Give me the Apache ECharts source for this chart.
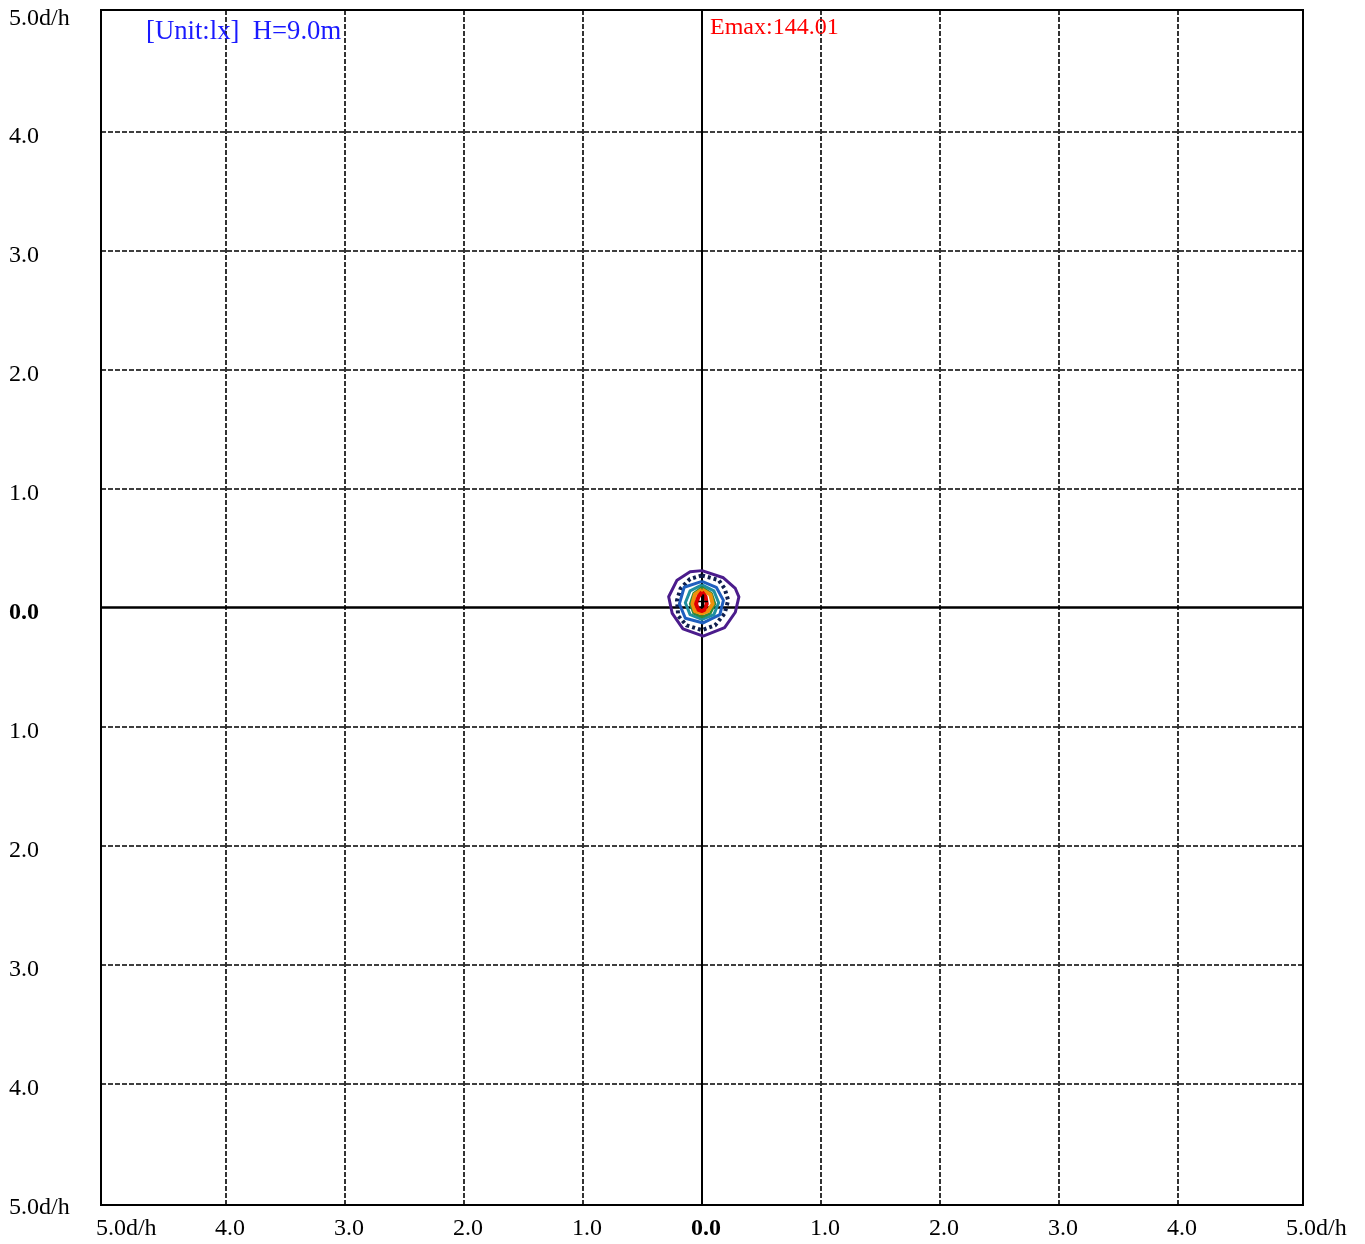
<!DOCTYPE html>
<html>
<head>
<meta charset="utf-8">
<script src="https://cdn.jsdelivr.net/npm/echarts@6/dist/echarts.min.js"></script>
<style>html,body{margin:0;padding:0;background:#fff}#c{width:1365px;height:1244px}</style>
</head>
<body>
<div id="c"></div>
<script>
// ---- data ----
const xTicks = [-5, -4, -3, -2, -1, 0, 1, 2, 3, 4, 5];
const xTickLabels = ['5.0d/h', '4.0', '3.0', '2.0', '1.0', '0.0', '1.0', '2.0', '3.0', '4.0', '5.0d/h'];
const yTicks = [-5, -4, -3, -2, -1, 0, 1, 2, 3, 4, 5];
const yTickLabels = ['5.0d/h', '4.0', '3.0', '2.0', '1.0', '0.0', '1.0', '2.0', '3.0', '4.0', '5.0d/h'];
const dashedGrid = [-4, -3, -2, -1, 1, 2, 3, 4];
const unitText = '[Unit:lx]  H=9.0m';
const emaxText = 'Emax:144.01';

// contour rings (d/h units)
const ringPurple = [[0.00,0.31],[0.18,0.25],[0.28,0.16],[0.31,0.09],[0.28,-0.04],[0.19,-0.17],[0.01,-0.24],[-0.16,-0.18],[-0.25,-0.05],[-0.28,0.09],[-0.21,0.23],[-0.10,0.30],[0.00,0.31]];
const ringDotted = [[0.00,0.27],[0.14,0.23],[0.19,0.16],[0.22,0.06],[0.19,-0.05],[0.11,-0.15],[0.00,-0.19],[-0.13,-0.15],[-0.20,-0.07],[-0.21,0.06],[-0.18,0.16],[-0.10,0.24],[0.00,0.27]];
const ringBlue = [[0.00,0.22],[0.12,0.17],[0.18,0.06],[0.15,-0.06],[0.01,-0.13],[-0.14,-0.09],[-0.19,0.03],[-0.15,0.17],[0.00,0.22]];
const ringTeal = [[0.00,0.19],[0.10,0.14],[0.14,0.04],[0.10,-0.06],[0.00,-0.10],[-0.10,-0.06],[-0.14,0.04],[-0.10,0.14],[0.00,0.19]];
const ringGreen = [[0.00,0.17],[0.08,0.12],[0.11,0.03],[0.07,-0.05],[0.00,-0.08],[-0.07,-0.05],[-0.10,0.03],[-0.07,0.12],[0.00,0.17]];
const ringOrange = [[0.00,0.15],[0.07,0.11],[0.09,0.03],[0.05,-0.03],[0.00,-0.05],[-0.06,-0.03],[-0.08,0.03],[-0.06,0.11],[0.00,0.15]];
const ringRed = [[0.00,0.13],[0.03,0.09],[0.04,0.03],[0.02,-0.02],[0.00,-0.03],[-0.03,-0.02],[-0.05,0.03],[-0.03,0.09],[0.00,0.13]];
const plusH = [[-0.03,0.05],[0.05,0.05]];
const plusV = [[0.01,0.00],[0.01,0.11]];

const FONT = "'Liberation Serif','Times New Roman',serif";

function ring(data, color, width, type, z) {
  return {
    type: 'line', data: data, showSymbol: false, symbol: 'none', silent: true,
    lineStyle: { color: color, width: width, type: type || 'solid', cap: 'butt', join: 'round' },
    z: z || 5, animation: false
  };
}

const chart = echarts.init(document.getElementById('c'), null, { renderer: 'canvas' });
chart.setOption({
  animation: false,
  backgroundColor: '#fff',
  grid: { left: 101, top: 10, right: 62, bottom: 39, show: true, borderColor: '#000', borderWidth: 2, backgroundColor: 'transparent' },
  xAxis: {
    type: 'value', min: -5.05, max: 5.05,
    axisLine: { show: false }, axisTick: { show: false }, splitLine: { show: false },
    axisLabel: {
      customValues: xTicks,
      align: 'left', verticalAlign: 'top', lineHeight: 24, margin: 12,
      padding: [0, 0, 0, -11],
      fontFamily: FONT, fontSize: 24, color: '#000',
      formatter: function (v) {
        const i = xTicks.indexOf(Math.round(v));
        return Math.round(v) === 0 ? '{b|' + xTickLabels[i] + '}' : xTickLabels[i];
      },
      rich: { b: { fontFamily: FONT, fontSize: 24, fontWeight: 'bold', color: '#000', lineHeight: 24 } }
    }
  },
  yAxis: {
    type: 'value', min: -5.023, max: 5.023,
    axisLine: { show: false }, axisTick: { show: false }, splitLine: { show: false },
    axisLabel: {
      customValues: yTicks,
      align: 'left', verticalAlign: 'top', lineHeight: 11, margin: 92,
      fontFamily: FONT, fontSize: 24, color: '#000',
      formatter: function (v) {
        const i = yTicks.indexOf(Math.round(v));
        return Math.round(v) === 0 ? '{b|' + yTickLabels[i] + '}' : yTickLabels[i];
      },
      rich: { b: { fontFamily: FONT, fontSize: 24, fontWeight: 'bold', color: '#000', lineHeight: 11 } }
    }
  },
  graphic: [
    { type: 'text', x: 146, y: 32, z: 100, style: { text: unitText, fill: '#1a1aff', font: "26.7px " + FONT, verticalAlign: 'middle', align: 'left' } },
    { type: 'text', x: 710, y: 28, z: 100, style: { text: emaxText, fill: '#ff0000', font: "24px " + FONT, verticalAlign: 'middle', align: 'left' } }
  ],
  series: [
    {
      type: 'line', data: [], silent: true, z: 2,
      markLine: {
        silent: true, symbol: ['none', 'none'], label: { show: false }, animation: false,
        data: dashedGrid.map(v => ({ xAxis: v, lineStyle: { color: '#000', width: 1.6, type: [5, 2] } }))
          .concat(dashedGrid.map(v => ({ yAxis: v, lineStyle: { color: '#000', width: 1.6, type: [5, 2] } })))
          .concat([{ xAxis: 0, lineStyle: { color: '#000', width: 2, type: 'solid' } },
                   { yAxis: 0, lineStyle: { color: '#000', width: 2.5, type: 'solid' } }])
      }
    },
    ring(ringPurple, '#4b1c8c', 3, 'solid', 5),
    ring(ringDotted, '#0f1f4f', 4, [3, 3], 6),
    ring(ringBlue, '#1f5fbf', 3, 'solid', 7),
    ring(ringTeal, '#1f8fa0', 3, 'solid', 8),
    ring(ringGreen, '#2e8b3a', 2.5, 'solid', 9),
    ring(ringOrange, '#f0900a', 4, 'solid', 10),
    ring(ringRed, '#e00000', 4, 'solid', 11),
    ring(plusH, '#000', 1.5, 'solid', 12),
    ring(plusV, '#000', 2, 'solid', 12)
  ]
});
</script>
</body>
</html>
